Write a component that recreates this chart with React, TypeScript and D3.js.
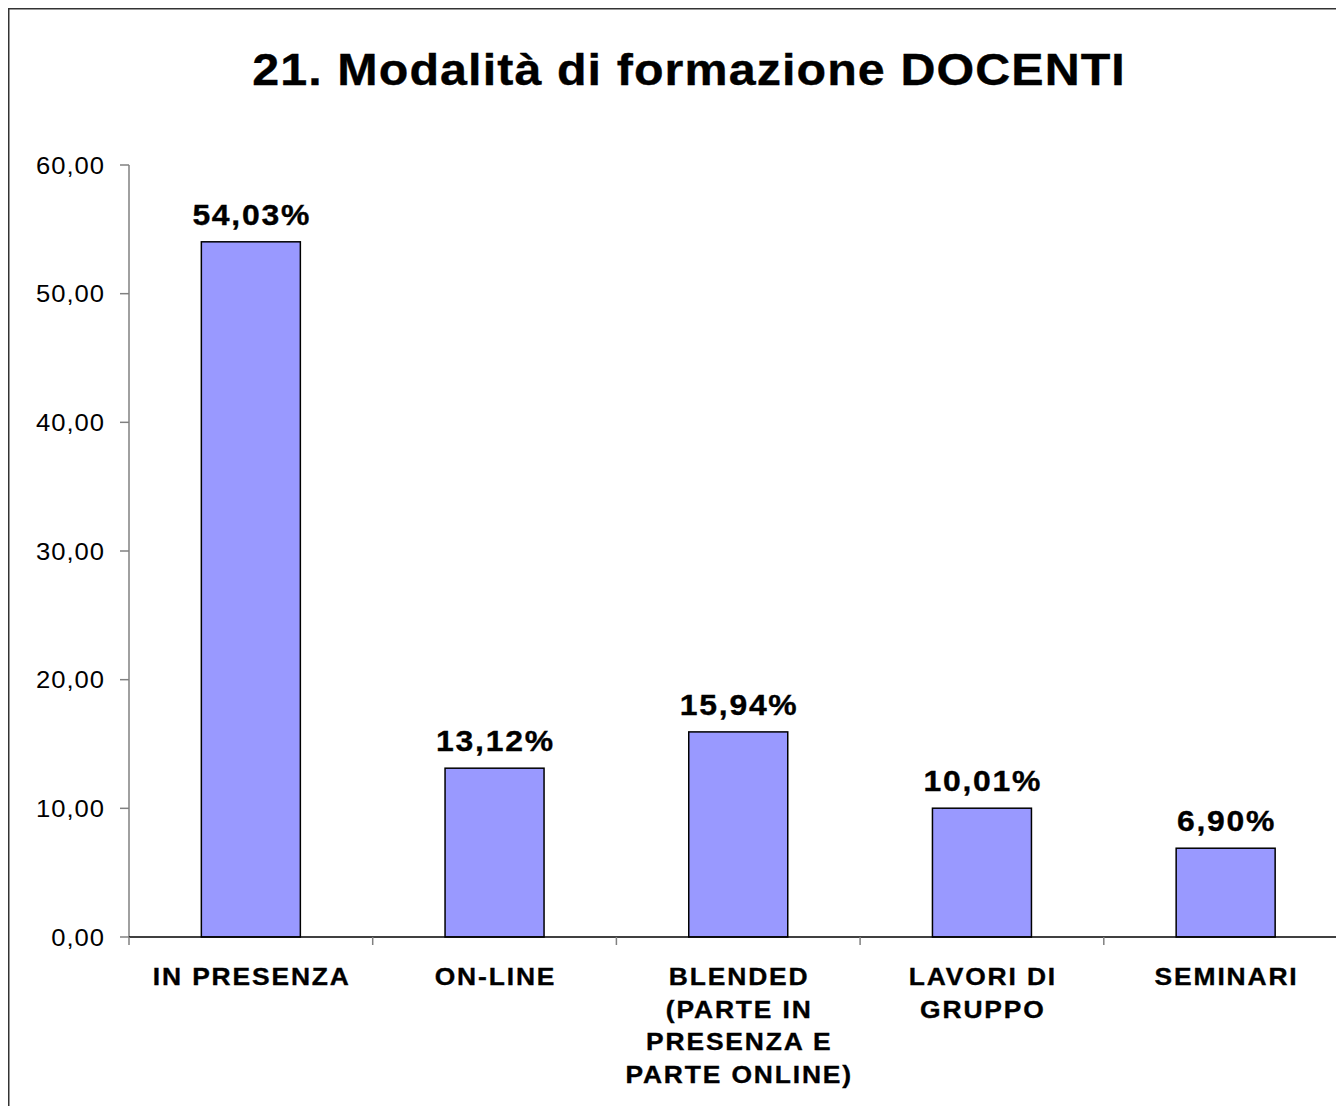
import React from "react";
import * as d3 from "d3";

const categories = ["IN PRESENZA", "ON-LINE", "BLENDED (PARTE IN PRESENZA E PARTE ONLINE)", "LAVORI DI GRUPPO", "SEMINARI"];
const categoryLines = [
  ["IN PRESENZA"],
  ["ON-LINE"],
  ["BLENDED", "(PARTE IN", "PRESENZA E", "PARTE ONLINE)"],
  ["LAVORI DI", "GRUPPO"],
  ["SEMINARI"],
];
const values = [54.03, 13.12, 15.94, 10.01, 6.9];
const yTicks = [0, 10, 20, 30, 40, 50, 60];
const title = "21. Modalità di formazione DOCENTI";

const FONT = "'Liberation Sans', Arial, sans-serif";
const SX = 1.1;

function SText({ x, y, size, bold, anchor, ls, children }: any) {
  const dx = anchor === "middle" ? ls / 2 : anchor === "end" ? ls : 0;
  return (
    <g transform={`translate(${x},${y}) scale(${SX},1)`}>
      <text x={dx} y={0} fontSize={size} fontWeight={bold ? "bold" : "normal"} textAnchor={anchor}
        fontFamily={FONT} fill="#000" stroke={bold ? "#000" : "none"} strokeWidth={bold ? 0.35 : 0}
        style={{ letterSpacing: `${ls}px` }}>
        {children}
      </text>
    </g>
  );
}

export default function App() {
  const x0 = 129;
  const bandW = 243.7;
  const x = d3.scaleBand<string>().domain(categories).range([x0, x0 + bandW * categories.length]).paddingInner(0).paddingOuter(0);
  const y = d3.scaleLinear().domain([0, 60]).range([937, 165]);
  const barW = 99;
  const fmt = (v: number) => v.toFixed(2).replace(".", ",");

  return (
    <svg width={1336} height={1098} style={{ display: "block" }}>
      <g transform="translate(-8,-8)">
        <rect x={0} y={0} width={1400} height={1200} fill="#fff" />
        <rect x={8.75} y={8.75} width={1500} height={1300} fill="none" stroke="#333" strokeWidth={1.5} />
        <SText x={688.5} y={85} size={44} bold anchor="middle" ls={1.0}>{title}</SText>

        {/* y axis */}
        <line x1={x0} x2={x0} y1={y(60)} y2={y(0)} stroke="#808080" strokeWidth={1.5} />
        {yTicks.map((t) => (
          <g key={t}>
            <line x1={120} x2={x0} y1={y(t)} y2={y(t)} stroke="#808080" strokeWidth={1.5} />
            <SText x={104} y={y(t) + 8.5} size={23.3} anchor="end" ls={0.9}>{fmt(t)}</SText>
          </g>
        ))}

        {/* bars */}
        {categories.map((c, i) => {
          const cx = (x(c) as number) + x.bandwidth() / 2;
          return (
            <g key={c}>
              <rect x={cx - barW / 2} y={y(values[i])} width={barW} height={y(0) - y(values[i])} fill="#9999FF" stroke="#000" strokeWidth={1.5} />
              <SText x={cx} y={y(values[i]) - 17} size={29} bold anchor="middle" ls={1.6}>{fmt(values[i]) + "%"}</SText>
              {categoryLines[i].map((l, j) => (
                <SText key={j} x={cx} y={985 + j * 32.5} size={24} bold anchor="middle" ls={1.7}>{l}</SText>
              ))}
            </g>
          );
        })}

        {/* x axis */}
        <line x1={x0} x2={1400} y1={y(0)} y2={y(0)} stroke="#000" strokeWidth={1.5} />
        {d3.range(categories.length + 1).map((i) => {
          const tx = x0 + i * x.bandwidth();
          return <line key={i} x1={tx} x2={tx} y1={y(0)} y2={945} stroke="#808080" strokeWidth={1.5} />;
        })}
      </g>
    </svg>
  );
}
